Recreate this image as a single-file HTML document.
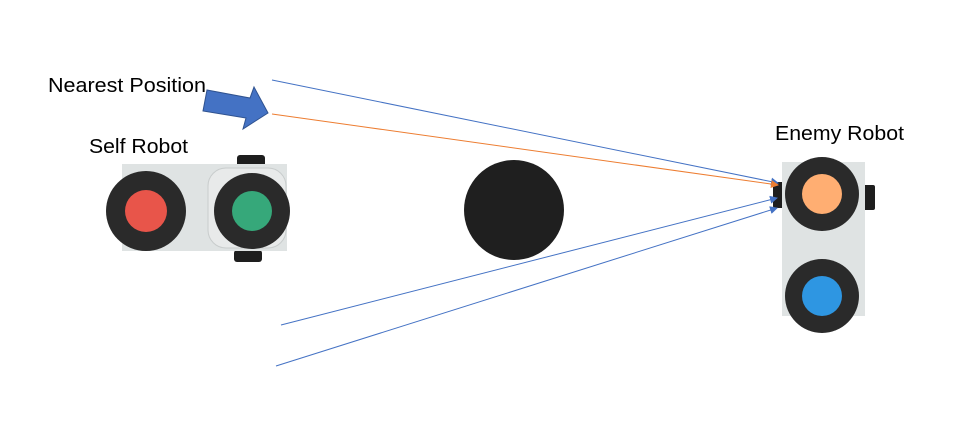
<!DOCTYPE html>
<html><head><meta charset="utf-8"><style>
body{margin:0;background:#fff;width:965px;height:437px;overflow:hidden}
svg{display:block}
text{font-family:"Liberation Sans","DejaVu Sans",sans-serif;font-size:20px;fill:#000}
</style></head><body>
<svg width="965" height="437">
<defs>
<marker id="ab" markerWidth="8" markerHeight="8" refX="7" refY="4" orient="auto" markerUnits="userSpaceOnUse"><path d="M0,0 L8,4 L0,8 z" fill="#4472c4"/></marker>
<marker id="ao" markerWidth="8" markerHeight="8" refX="7" refY="4" orient="auto" markerUnits="userSpaceOnUse"><path d="M0,0 L8,4 L0,8 z" fill="#ed7d31"/></marker>
</defs>
<text x="48" y="92" textLength="158" lengthAdjust="spacingAndGlyphs">Nearest Position</text>
<text x="89" y="153" textLength="99" lengthAdjust="spacingAndGlyphs">Self Robot</text>
<text x="775" y="140" textLength="129" lengthAdjust="spacingAndGlyphs">Enemy Robot</text>
<polygon points="207,90 250,98 254,87 268,113 243,129 246,118 203,111" fill="#4472c4" stroke="#2f528f" stroke-width="1"/>
<g>
<rect x="237" y="155" width="28" height="12" rx="3" fill="#1e1e1e"/>
<rect x="234" y="250" width="28" height="12" rx="3" fill="#1e1e1e"/>
<rect x="122" y="164" width="165" height="87" fill="#dfe3e3"/>
<rect x="208" y="168" width="78" height="80" rx="18" fill="#e8eaea" stroke="#c8cccc"/>
<circle cx="146" cy="211" r="40" fill="#2a2a2a"/>
<circle cx="146" cy="211" r="21" fill="#e8554a"/>
<circle cx="252" cy="211" r="38" fill="#2a2a2a"/>
<circle cx="252" cy="211" r="20" fill="#36a87a"/>
</g>
<circle cx="514" cy="210" r="50" fill="#1f1f1f"/>
<g>
<rect x="773" y="182" width="13" height="26" rx="2" fill="#1e1e1e"/>
<rect x="862" y="185" width="13" height="25" rx="2" fill="#1e1e1e"/>
<rect x="782" y="162" width="83" height="154" fill="#dfe3e3"/>
<circle cx="822" cy="194" r="37" fill="#2a2a2a"/>
<circle cx="822" cy="194" r="20" fill="#ffae72"/>
<circle cx="822" cy="296" r="37" fill="#2a2a2a"/>
<circle cx="822" cy="296" r="20" fill="#2e96e2"/>
</g>
<line x1="272" y1="80" x2="778" y2="183" stroke="#4472c4" stroke-width="1" marker-end="url(#ab)"/>
<line x1="272" y1="114" x2="778" y2="185" stroke="#ed7d31" stroke-width="1" marker-end="url(#ao)"/>
<line x1="281" y1="325" x2="777" y2="198" stroke="#4472c4" stroke-width="1" marker-end="url(#ab)"/>
<line x1="276" y1="366" x2="777" y2="208" stroke="#4472c4" stroke-width="1" marker-end="url(#ab)"/>
</svg>
</body></html>
